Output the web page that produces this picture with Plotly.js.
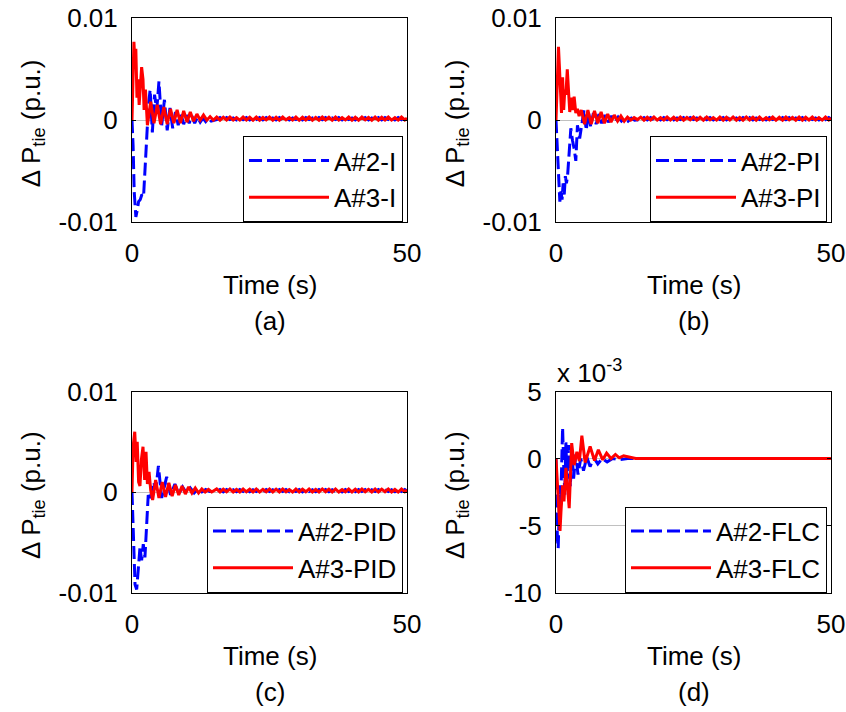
<!DOCTYPE html>
<html><head><meta charset="utf-8">
<script src="https://cdn.plot.ly/plotly-3.0.1.min.js"></script>
<style>html,body{margin:0;padding:0;background:#fff}#chart{width:846px;height:712px}</style>
</head><body><div id="chart"></div>
<script>
// All values in units of 10^-3 p.u.; time in s
// (a) I controller
const tA2 = [0,0.2,0.4,0.7,0.9,1.2,1.5,1.8,2.1,2.4,2.7,3.0,3.3,3.7,4.1,4.5,4.9,5.4,5.9,6.4,6.9,7.4,7.9,8.4,8.9,9.4,9.9,10.4,10.9,11.4,11.9,12.4,12.9,13.4,13.9,14.4];
const vA2 = [0,-2.5,-7,-9.5,-9,-8,-7.8,-7.3,-7.5,-5,-1.5,1.5,3.0,-1.2,2.5,1,3.8,-0.5,2.0,-1.0,1.2,-0.8,0.8,-0.5,0.6,-0.4,0.5,-0.3,0.4,-0.3,0.3,-0.2,0.2,-0.15,0.15,-0.1];
const tA3 = [0,0.15,0.35,0.5,0.7,0.9,1.1,1.3,1.5,1.75,2.0,2.2,2.45,2.8,3.4,4.0,4.6,5.2,5.8,6.4,7.0,7.6,8.2,8.8,9.4,10.0,10.6,11.2,11.8,12.4,13.0,13.6,14.2,14.8];
const vA3 = [0,5.0,7.7,6.0,7.0,2.2,4.0,1.5,3.5,5.2,4.0,1.0,3.0,-0.5,1.8,-0.3,1.5,-0.4,1.3,-0.4,1.1,-0.3,1.0,-0.3,0.9,-0.2,0.8,-0.1,0.6,0.0,0.5,0.0,0.35,0.0];
// (b) PI controller
const tB2 = [0,0.2,0.45,0.7,0.9,1.1,1.3,1.5,1.7,1.9,2.1,2.4,2.7,3.0,3.3,3.6,3.9,4.3,4.7,5.1,5.5,5.9,6.3,6.8,7.3,7.8,8.3,8.9,9.5,10.1,10.7,11.3,11.9,12.5,13.1,13.7,14.3];
const vB2 = [0,-2.5,-6.5,-8.0,-7.0,-7.8,-6.2,-7.3,-5.5,-6.2,-5.5,-3.5,-0.8,-2.0,-2.8,-4.0,-0.5,-1.8,-0.2,1.0,-1.0,0.8,-0.6,0.7,-0.4,0.6,-0.3,0.5,-0.2,0.4,-0.2,0.3,-0.1,0.2,-0.1,0.2,0];
const tB3 = [0,0.15,0.3,0.45,0.6,0.8,1.0,1.2,1.4,1.6,1.8,2.05,2.3,2.5,2.75,3.0,3.3,3.6,3.9,4.2,4.6,5.2,5.8,6.4,7.0,7.6,8.2,8.8,9.4,10.0,10.6,11.2,11.8,12.4,13.0,13.6,14.2,14.8];
const vB3 = [0,2.5,6.0,7.2,5.5,2.0,0.7,4.2,1.0,3.0,2.5,5.0,2.0,0.8,2.2,1.0,2.3,0.7,1.1,0.4,1.0,-0.4,1.0,-0.4,0.9,-0.3,0.8,-0.3,0.6,-0.2,0.5,-0.1,0.4,-0.1,0.3,0.0,0.25,0.05];
// (c) PID controller
const tC2 = [0,0.2,0.55,0.85,1.15,1.45,1.75,2.05,2.35,2.65,2.95,3.3,3.9,4.35,4.8,5.4,6.3,7.0,7.8,8.5,9.2,9.9,10.6,11.3,12.0,12.7,13.4,14.1];
const vC2 = [0,-4.3,-9.2,-9.7,-7.5,-5.5,-6.8,-5.2,-6.5,-3.3,-0.3,-0.8,1.0,0.3,2.6,-0.6,1.5,-0.3,0.8,-0.2,0.5,-0.1,0.4,-0.1,0.3,0.0,0.25,0.05];
const tC3 = [0,0.2,0.5,0.75,0.95,1.2,1.45,1.7,2.0,2.3,2.55,2.8,3.1,3.4,3.75,4.3,4.9,5.5,6.1,6.7,7.3,7.9,8.5,9.1,9.7,10.3,10.9,11.5,12.1,12.7,13.3,13.9,14.5];
const vC3 = [0,4.5,6.0,3.0,5.0,1.0,0.6,3.2,4.5,1.2,4.0,0.8,2.0,0.2,-0.8,1.2,-0.6,1.0,-0.5,0.9,-0.4,0.7,-0.3,0.6,-0.2,0.5,-0.1,0.4,-0.1,0.3,0.0,0.25,0.0];
// (d) FLC controller
const tD2 = [0,0.1,0.25,0.4,0.55,0.7,0.85,1.0,1.2,1.4,1.6,1.8,2.0,2.3,2.6,2.9,3.2,3.6,4.0,4.5,5.0,5.6,6.2,6.9,7.6,8.4,9.3,10.3,11.5,13.0,15.0,50];
const vD2 = [0,-3.0,-6.0,-6.7,-4.5,-2.0,-3.5,0.5,2.3,-0.5,-2.7,1.2,-1.5,1.0,-2.1,0.5,-1.5,0.3,-1.2,0.0,-0.9,0.1,-0.6,0.05,-0.4,0.0,-0.25,0.0,-0.1,0.0,0.0,0.0];
const tD3 = [0,0.15,0.42,0.73,0.9,1.2,1.45,1.8,2.06,2.4,2.85,3.3,3.8,4.25,4.7,5.3,6.2,7.0,7.7,8.5,9.2,10.0,10.8,11.5,12.3,13.2,14.5,50];
const vD3 = [0,-1.0,-3.2,-5.4,-4.0,-2.0,-3.2,-0.7,-2.0,-3.7,1.15,-0.5,0.5,-0.2,1.7,-0.3,0.9,-0.15,0.65,-0.1,0.4,0.0,0.3,0.05,0.2,0.1,0.0,0.0];
// small residual ripple after 15 s in (a)-(c)
const tTail = [15.4,16,16.6,17.2,17.8,18.4,19,19.6,20.2,20.8,21.4,22,22.6,23.2,23.8,24.4,25,25.6,26.2,26.8,27.4,28,28.6,29.2,29.8,30.4,31,31.6,32.2,32.8,33.4,34,34.6,35.2,35.8,36.4,37,37.6,38.2,38.8,39.4,40,40.6,41.2,41.8,42.4,43,43.6,44.2,44.8,45.4,46,46.6,47.2,47.8,48.4,49,49.6,50];
const redTail = [0.3,0,0.28,0.02,0.3,0,0.25,0,0.3,0.02,0.28,0,0.3,0,0.26,0.02,0.3,0,0.28,0,0.3,0.02,0.25,0,0.3,0,0.28,0.02,0.3,0,0.26,0,0.3,0.02,0.28,0,0.3,0,0.25,0.02,0.3,0,0.28,0,0.3,0.02,0.26,0,0.3,0,0.28,0.02,0.3,0,0.25,0,0.3,0.02,0.2];
const blueTail = [0.05,0.25,0.02,0.25,0.05,0.22,0.02,0.25,0.05,0.25,0.02,0.22,0.05,0.25,0.02,0.25,0.05,0.22,0.02,0.25,0.05,0.25,0.02,0.22,0.05,0.25,0.02,0.25,0.05,0.22,0.02,0.25,0.05,0.25,0.02,0.22,0.05,0.25,0.02,0.25,0.05,0.22,0.02,0.25,0.05,0.25,0.02,0.22,0.05,0.25,0.02,0.25,0.05,0.22,0.02,0.25,0.05,0.25,0.1];

const names2 = ['A#2-I','A#2-PI','A#2-PID','A#2-FLC'];
const names3 = ['A#3-I','A#3-PI','A#3-PID','A#3-FLC'];
const panelLabels = ['(a)','(b)','(c)','(d)'];
const xTicks = [0,50];
const yTicksABC = [-0.01,0,0.01];
const yTextABC = ['-0.01','0','0.01'];
const yTicksD = [-0.01,-0.005,0,0.005];
const yTextD = ['-10','-5','0','5'];

const W=846,H=712, FONT='Liberation Sans, Arial, sans-serif', FS=26;
const px=x=>x/W, py=y=>1-y/H;
const pu=a=>a.map(v=>v*1e-3);

const series = [
  {t2:tA2,v2:vA2,t3:tA3,v3:vA3,tail:true},
  {t2:tB2,v2:vB2,t3:tB3,v3:vB3,tail:true},
  {t2:tC2,v2:vC2,t3:tC3,v3:vC3,tail:true},
  {t2:tD2,v2:vD2,t3:tD3,v3:vD3,tail:false}
];
const box = [
  {l:132,r:407,t:18.3,b:222},
  {l:556,r:831,t:18.3,b:222},
  {l:132,r:407,t:391.5,b:592.5},
  {l:556,r:831,t:391.5,b:592.5}
];

const traces=[]; const layout={width:W,height:H,margin:{l:0,r:0,t:0,b:0},paper_bgcolor:'#fff',plot_bgcolor:'#fff',
  font:{family:FONT,size:FS,color:'#000'},annotations:[]};
series.forEach((s,i)=>{
  const k=i===0?'':String(i+1);
  const lg='legend'+k;
  const x2=s.tail?s.t2.concat(tTail):s.t2, y2=s.tail?s.v2.concat(blueTail):s.v2;
  const x3=s.tail?s.t3.concat(tTail):s.t3, y3=s.tail?s.v3.concat(redTail):s.v3;
  traces.push({x:x2,y:pu(y2),xaxis:'x'+k,yaxis:'y'+k,mode:'lines',name:names2[i],legend:lg,
    line:{color:'#0000ff',width:3,dash:'13px,5px'}});
  traces.push({x:x3,y:pu(y3),xaxis:'x'+k,yaxis:'y'+k,mode:'lines',name:names3[i],legend:lg,
    line:{color:'#ff0000',width:3}});
  const b=box[i];
  const common={showline:true,linecolor:'#000',linewidth:1,mirror:'ticks',ticks:'inside',ticklen:4,tickwidth:1,tickcolor:'#000',
    showgrid:true,gridcolor:'#c0c0c0',gridwidth:1,zeroline:false,tickfont:{family:FONT,size:FS,color:'#000'},fixedrange:true};
  layout['xaxis'+k]=Object.assign({},common,{domain:[px(b.l),px(b.r)],anchor:'y'+k,range:[0,50],tickvals:xTicks,ticktext:['0','50'],ticklabelstandoff:8});
  layout['yaxis'+k]=Object.assign({},common,{domain:[py(b.b),py(b.t)],anchor:'x'+k,
    range:i===3?[-0.01,0.005]:[-0.01,0.01],tickvals:i===3?yTicksD:yTicksABC,ticktext:i===3?yTextD:yTextABC,ticklabelstandoff:8});
  layout[lg]={x:px(b.r-4),y:py(b.b),xanchor:'right',yanchor:'bottom',bgcolor:'#fff',bordercolor:'#000',borderwidth:1,
    font:{family:FONT,size:FS,color:'#000'},itemwidth:80,tracegroupgap:0};
  const cx=(b.l+b.r)/2;
  layout.annotations.push({xref:'paper',yref:'paper',x:px(cx),y:py(b.b+63),text:'Time (s)',showarrow:false,xanchor:'center',yanchor:'middle',font:{family:FONT,size:FS}});
  layout.annotations.push({xref:'paper',yref:'paper',x:px(cx),y:py(b.b+99),text:panelLabels[i],showarrow:false,xanchor:'center',yanchor:'middle',font:{family:FONT,size:FS}});
  layout.annotations.push({xref:'paper',yref:'paper',x:px(b.l-100),y:py((b.t+b.b)/2+3),text:'Δ P<sub>tie</sub> (p.u.)',textangle:-90,showarrow:false,xanchor:'center',yanchor:'middle',font:{family:FONT,size:FS}});
});
layout.annotations.push({xref:'paper',yref:'paper',x:px(555),y:py(371),text:'x 10<sup>-3</sup>',showarrow:false,xanchor:'left',yanchor:'middle',font:{family:FONT,size:FS}});

Plotly.newPlot('chart',traces,layout,{staticPlot:true,displayModeBar:false});
</script></body></html>
